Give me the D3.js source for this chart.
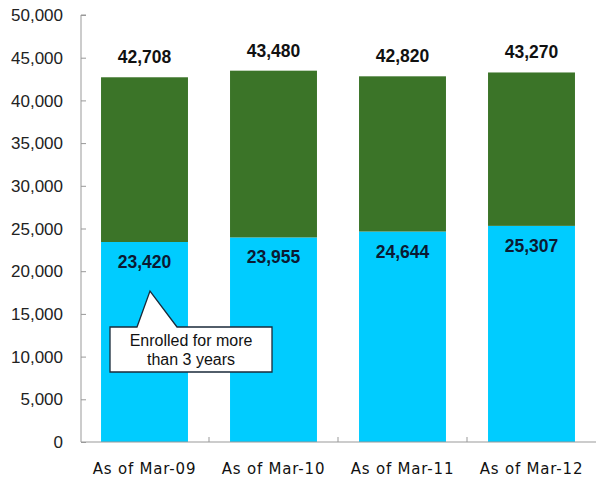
<!DOCTYPE html>
<html><head><meta charset="utf-8">
<script src="https://cdn.jsdelivr.net/npm/d3@7"></script>
<style>body{margin:0;background:#fff}</style>
</head><body>
<svg id="c" width="597" height="484"></svg>
<script>
const categories = ["As of Mar-09", "As of Mar-10", "As of Mar-11", "As of Mar-12"];
const totals = [42708, 43480, 42820, 43270];
const over3 = [23420, 23955, 24644, 25307];
const yTicks = [0, 5000, 10000, 15000, 20000, 25000, 30000, 35000, 40000, 45000, 50000];
const calloutText = ["Enrolled for more", "than 3 years"];

(function () {
const svg = d3.select("#c");
const L = 81, R = 596, T = 15, B = 442;
const x = d3.scaleBand().domain(categories).range([L - 1, R]).paddingInner(0.326).paddingOuter(0.163);
const y = d3.scaleLinear().domain([0, 50000]).range([B, T]);
const fmt = d3.format(",");

const data = categories.map((c, i) => ({c, total: totals[i], low: over3[i], high: totals[i] - over3[i]}));

svg.selectAll("rect.low").data(data).join("rect").attr("class", "low")
  .attr("x", d => x(d.c)).attr("width", x.bandwidth())
  .attr("y", d => y(d.low)).attr("height", d => y(0) - y(d.low))
  .attr("fill", "#00CCFF");
svg.selectAll("rect.high").data(data).join("rect").attr("class", "high")
  .attr("x", d => x(d.c)).attr("width", x.bandwidth())
  .attr("y", d => y(d.total)).attr("height", d => y(d.low) - y(d.total))
  .attr("fill", "#3B7428");

const ya = svg.append("g").attr("transform", `translate(${L},0)`)
  .call(d3.axisRight(y).tickValues(yTicks).tickSize(5).tickFormat(""));
ya.select(".domain").attr("stroke", "#999").attr("d", `M5,${T}H0V${B}`);
ya.selectAll(".tick line").attr("stroke", "#999");
svg.append("g").selectAll("text").data(yTicks).join("text")
  .attr("x", 63).attr("y", d => y(d)).attr("dy", "0.36em")
  .attr("text-anchor", "end")
  .attr("font-family", "Liberation Sans, Arial, sans-serif").attr("font-size", 17)
  .attr("fill", "#222").text(d => fmt(d));

const bounds = categories.map(c => x(c) - x.step() * x.paddingInner() / 2).slice(1);
const xa = svg.append("g");
xa.append("line").attr("x1", L).attr("x2", R).attr("y1", B).attr("y2", B).attr("stroke", "#999");
xa.selectAll("line.t").data(bounds).join("line").attr("class", "t")
  .attr("x1", d => d).attr("x2", d => d).attr("y1", B).attr("y2", B - 5).attr("stroke", "#999");
xa.selectAll("text").data(categories).join("text")
  .attr("x", d => x(d) + x.bandwidth() / 2).attr("y", 474)
  .attr("text-anchor", "middle")
  .attr("font-family", "DejaVu Sans, sans-serif").attr("font-size", 15)
  .attr("letter-spacing", 0.8)
  .attr("fill", "#111").text(d => d);

svg.selectAll("text.tot").data(data).join("text").attr("class", "tot")
  .attr("x", d => x(d.c) + x.bandwidth() / 2).attr("y", d => y(d.total) - 14)
  .attr("text-anchor", "middle").attr("font-weight", "bold")
  .attr("font-family", "Liberation Sans, Arial, sans-serif").attr("font-size", 17.5)
  .attr("fill", "#111").text(d => fmt(d.total));
svg.selectAll("text.lowl").data(data).join("text").attr("class", "lowl")
  .attr("x", d => x(d.c) + x.bandwidth() / 2).attr("y", d => y(d.low) + 26)
  .attr("text-anchor", "middle").attr("font-weight", "bold")
  .attr("font-family", "Liberation Sans, Arial, sans-serif").attr("font-size", 17.5)
  .attr("fill", "#0b1a33").text(d => fmt(d.low));

const bx0 = 110, bx1 = 272, by0 = 327, by1 = 372, tipX = 150, tipY = 291;
svg.append("path")
  .attr("d", `M${bx0},${by0}H137L${tipX},${tipY}L177,${by0}H${bx1}V${by1}H${bx0}Z`)
  .attr("fill", "#fff").attr("stroke", "#1a2a3a").attr("stroke-width", 1.3);
svg.append("g").selectAll("text").data(calloutText).join("text")
  .attr("x", (bx0 + bx1) / 2).attr("y", (d, i) => 346 + i * 19)
  .attr("text-anchor", "middle")
  .attr("font-family", "Liberation Sans, Arial, sans-serif").attr("font-size", 16)
  .attr("fill", "#111").text(d => d);
})();
</script>
</body></html>
